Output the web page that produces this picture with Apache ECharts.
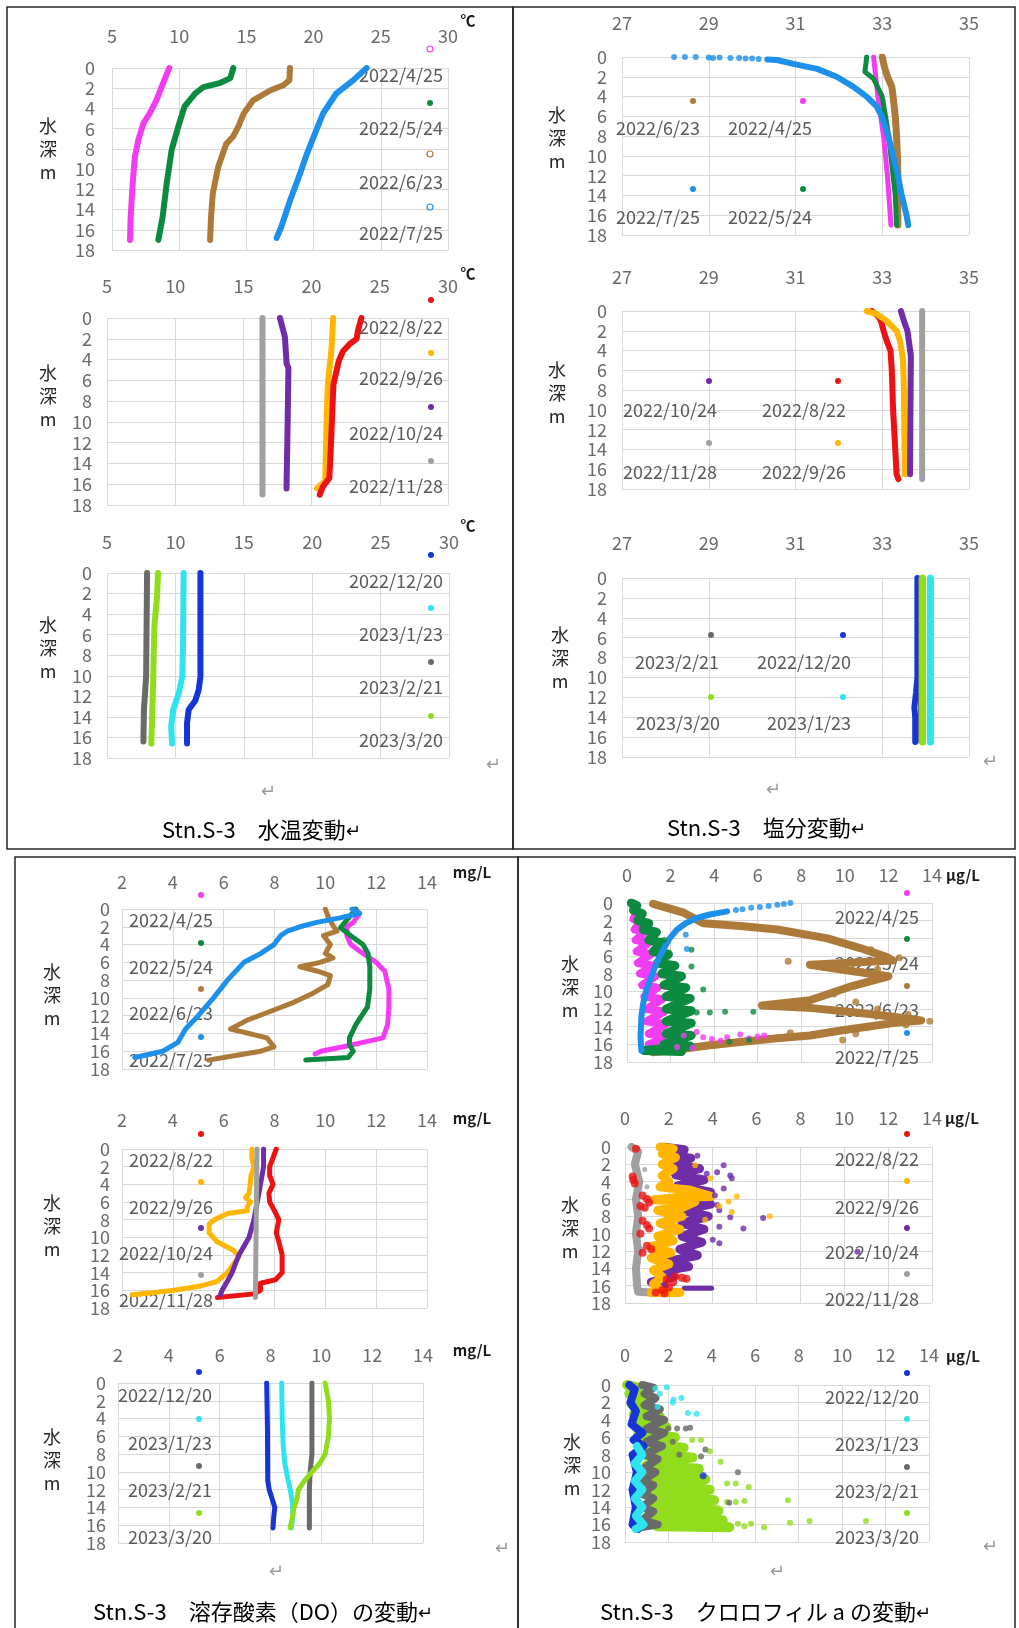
<!DOCTYPE html>
<html>
<head>
<meta charset="utf-8">
<script src="https://cdn.jsdelivr.net/npm/echarts@6/dist/echarts.min.js"></script>
<style>
html, body { margin: 0; padding: 0; background: #fff; overflow: hidden; }
#main { width: 1019px; height: 1628px; }
</style>
</head>
<body>
<div id="main"></div>
<script>
// survey dates, one row per sub chart
const row1 = ['2022/4/25', '2022/5/24', '2022/6/23', '2022/7/25']
const row2 = ['2022/8/22', '2022/9/26', '2022/10/24', '2022/11/28']
const row3 = ['2022/12/20', '2023/1/23', '2023/2/21', '2023/3/20']

const depthTicks = [0, 18, 2]
// depth labels split over two axes so the crowded labels never get dropped
const depthLabelsA = [0, 4, 8, 12, 16]
const depthLabelsB = [2, 6, 10, 14, 18]
const tempTicks = [5, 30, 5]
const salTicks = [27, 35, 2]
const doTicks = [2, 14, 2]
const chlTicks = [0, 14, 2]

// ---- water temperature [℃, depth m] ----
const temp0425 = [[9.26,0],[8.7,1.85],[8.3,3.2],[7.8,4.5],[7.33,5.5],[6.96,7.1],[6.7,8.8],[6.54,11.4],[6.39,14.7],[6.34,17]]
const temp0524 = [[14.03,0],[13.8,1],[13.0,1.5],[11.8,1.9],[11.2,2.5],[10.4,3.8],[9.93,5.8],[9.44,8.1],[9.07,11.4],[8.77,14.7],[8.45,17]]
const temp0623 = [[18.24,0],[18.2,1.2],[17.75,1.7],[16.8,2.2],[15.5,3.2],[14.8,4.5],[14.4,5.8],[14.0,6.8],[13.5,7.5],[12.9,9.8],[12.5,12.4],[12.37,14.7],[12.3,17]]
const temp0725 = [[23.95,0],[22.96,1.2],[21.7,2.5],[20.7,4.5],[20.1,6.5],[19.5,8.5],[19.0,10.4],[18.25,13.1],[17.6,15.7],[17.25,16.8]]
const temp0822 = [[23.65,0],[23.4,1.2],[23.3,2],[22.8,2.5],[22.3,3.2],[22.0,4.1],[21.6,6.4],[21.5,9.6],[21.4,12.8],[21.3,15.4],[20.8,16.3],[20.6,17]]
const temp0926 = [[21.58,0],[21.46,3],[21.2,6.2],[21.1,9.6],[21.05,12.8],[21.0,15.7],[20.4,16.4]]
const temp1024 = [[17.68,0],[18.04,1.8],[18.17,4.4],[18.3,4.8],[18.25,9.6],[18.16,16.4]]
const temp1128 = [[16.4,0],[16.4,17]]
const temp1220 = [[11.83,0],[11.83,6.9],[11.83,10.1],[11.7,11.4],[11.46,12.4],[10.97,13.3],[10.85,14.6],[10.85,16.6]]
const temp0123 = [[10.6,0],[10.56,6.9],[10.5,10.1],[10.25,11.7],[9.84,13.3],[9.69,14.9],[9.76,16.6]]
const temp0221 = [[7.93,0],[7.86,10.1],[7.7,13.3],[7.66,16.4]]
const temp0320 = [[8.73,0],[8.66,2.3],[8.46,5.2],[8.37,10.7],[8.24,16.6]]

// ---- salinity [psu, depth m] ----
const sal0425 = [[32.8,0],[32.9,4],[33.03,8],[33.12,12],[33.2,17]]
const sal0524 = [[32.64,0],[32.62,0.8],[32.6,1.5],[32.8,2.2],[33.0,4],[33.15,8],[33.25,12],[33.3,14],[33.32,16],[33.33,17]]
const sal0623 = [[33.0,0],[33.05,1],[33.12,2],[33.22,3],[33.25,4],[33.3,6],[33.33,8],[33.35,10],[33.36,12],[33.35,14],[33.36,16],[33.36,17]]
const sal0725 = [[30.35,0.25],[30.57,0.3],[30.95,0.7],[31.5,1.2],[31.95,2],[32.33,3],[32.64,4],[32.87,5],[32.99,6],[33.14,8],[33.25,10],[33.36,12],[33.45,14],[33.56,16],[33.6,17]]
const sal0725Top = [[28.2,0],[28.45,0],[28.7,0],[29.0,0.05],[29.1,0.1],[29.25,0.05],[29.5,0.1],[29.7,0.1],[29.85,0.15],[30.0,0.15],[30.15,0.2]]
const sal0822 = [[32.76,0],[32.9,0.5],[32.97,1],[33.03,2],[33.1,3],[33.19,4],[33.22,6],[33.25,10],[33.3,14],[33.33,16.5],[33.37,17]]
const sal0926 = [[32.64,0],[32.87,0.3],[33.1,1],[33.33,2],[33.41,3],[33.48,5],[33.5,8],[33.52,16.5]]
const sal1024 = [[33.43,0],[33.5,1],[33.58,2],[33.66,4.5],[33.65,10],[33.64,16.5]]
const sal1128 = [[33.92,0],[33.92,17]]
const sal1220 = [[33.81,0],[33.81,10],[33.78,11.5],[33.74,13],[33.76,14],[33.76,16.5]]
const sal0123 = [[34.11,0],[34.11,16.5]]
const sal0221 = [[33.86,0],[33.86,16.5]]
const sal0320 = [[33.93,0],[33.93,16.5]]

// ---- dissolved oxygen [mg/L, depth m] ----
const do0425 = [[11.15,0],[11.35,0.5],[11.1,1.5],[10.85,2],[10.85,3],[11.0,4],[11.48,5],[12.0,6],[12.34,7],[12.5,9],[12.5,11],[12.45,13],[12.27,14.5],[11.48,15],[10.7,15.5],[9.83,16],[9.6,16.3]]
const do0524 = [[11.2,0],[10.6,2.1],[11.0,3],[11.48,4],[11.68,5],[11.75,6.5],[11.75,9],[11.66,11],[11.2,13],[10.95,14.5],[10.95,15.3],[11.1,16],[10.9,16.7],[9.23,17]]
const do0623 = [[10.0,0],[10.13,1],[10.33,2],[10.46,2.5],[9.93,3],[10.2,4],[10.0,5],[10.3,5.5],[9.8,6],[9.0,6.5],[9.7,7],[10.2,7.5],[10.1,8.5],[9.5,9.5],[8.76,10.5],[7.85,11.5],[6.93,12.5],[6.27,13.5],[7.7,14.5],[7.98,15.5],[7.46,16],[6.4,16.5],[5.4,17]]
const do0725 = [[11.05,0],[11.35,0.5],[10.57,1],[9.66,1.5],[9.0,2],[8.5,2.5],[8.24,3],[7.98,4],[7.46,5],[6.8,6],[6.15,8],[5.6,10],[5.0,12],[4.5,13.5],[4.2,15],[3.6,16],[2.5,16.7]]
const do0822 = [[8.07,0],[7.94,1],[7.81,2],[7.81,3],[7.94,4],[7.78,5],[7.81,6],[8.0,7],[8.17,8],[8.07,9.5],[8.17,10.5],[8.3,12],[8.3,14],[8.04,14.8],[7.45,15.2],[7.45,16],[7.2,16.4],[5.75,16.8]]
const do0926 = [[7.11,0],[7.11,1],[7.19,2],[7.08,3],[7.04,4],[7.0,5],[6.86,5.5],[7.06,6],[6.93,6.5],[6.93,7],[6.15,7.3],[5.63,8],[5.43,8.5],[5.43,9.5],[5.74,10.5],[6.4,11.5],[6.6,12.2],[6.4,13],[6.14,14],[5.74,15],[5.1,15.5],[4.05,16],[3.1,16.3],[2.4,16.5]]
const do1024 = [[7.57,0],[7.57,2],[7.45,4],[7.32,6],[7.19,8],[7.0,10],[6.8,11],[6.6,12],[6.46,13],[6.33,14],[6.14,15],[5.94,16],[5.87,16.5]]
const do1128 = [[7.31,0],[7.28,8],[7.25,16.8]]
const do1220 = [[7.85,0],[7.88,5],[7.89,11],[7.95,12],[8.06,13],[8.17,14],[8.13,15],[8.1,16.3]]
const do0123 = [[8.44,0],[8.46,4],[8.5,7],[8.56,9],[8.63,10],[8.7,11],[8.78,12],[8.86,13.5],[8.88,15],[8.82,16.3]]
const do0221 = [[9.63,0],[9.63,8],[9.56,10],[9.53,12],[9.53,16.3]]
const do0320 = [[10.15,0],[10.28,2],[10.32,4],[10.28,6],[10.15,8],[9.95,9],[9.63,10],[9.33,11],[9.1,12],[9.04,13],[8.93,14],[8.87,15],[8.77,16.3]]

// ---- chlorophyll a [µg/L, depth m] (dense clouds traced as zigzags + loose points) ----
const chl0425 = [[0.3,0.5],[0.45,1],[0.3,1.8],[0.6,2.2],[0.35,3],[0.8,3.3],[0.4,4.2],[1.0,4.5],[0.45,5.5],[1.1,5.8],[0.5,6.8],[1.2,7.1],[0.6,8],[1.3,8.3],[0.7,9.3],[1.4,9.6],[0.8,10.6],[1.6,10.9],[0.9,12],[1.7,12.3],[0.9,13.4],[1.8,13.7],[1.0,14.8],[1.9,15.1],[1.0,16],[2.0,16.2],[0.9,16.7],[2.2,16.7]]
const chl0425Pts = [[3.2,14.6],[3.5,15.2],[3.9,15.4],[4.3,15.6],[4.6,15.2],[5.2,14.9],[5.6,15.3],[6.0,15.1],[6.3,15.0],[2.6,15.0],[2.3,16.3],[3.0,16.4]]
const chl0524 = [[0.2,0],[0.45,0.3],[0.3,0.8],[0.7,1.2],[0.5,2],[1.0,2.3],[0.75,3],[1.35,3.3],[1.0,4.2],[1.6,4.5],[1.2,5.5],[1.9,5.8],[1.4,6.8],[2.2,7.1],[1.6,8],[2.5,8.3],[1.7,9.3],[2.7,9.6],[1.8,10.6],[2.9,10.8],[1.8,12],[2.95,12.2],[1.8,13.4],[2.95,13.6],[1.8,14.8],[2.95,15],[1.7,16],[2.9,16.2],[0.8,16.7],[2.5,16.8]]
const chl0524Pts = [[1.7,4.2],[2.96,5.3],[2.96,7.2],[3.5,9.8],[3.8,12.4],[3.2,12.4],[4.5,12.3],[5.8,12.3],[4.7,15.7],[5.6,15.5]]
const chl0623 = [[1.2,0.1],[2.6,1.1],[3.5,2.3],[5.2,2.6],[6.9,3.0],[9.2,4.0],[10.7,5.1],[11.9,6.1],[12.2,6.5],[10,6.8],[8.4,7.0],[10,7.6],[12,8.3],[10.2,9.5],[8.4,11],[6.2,11.6],[8.5,11.9],[10.5,12.4],[12.3,12.9],[13.5,13.3],[12.2,13.6],[9.9,14.4],[8.4,15],[6.9,15.3],[5.3,15.7],[3.8,16.1],[2.3,16.6],[1.2,16.9]]
const chl0623Pts = [[11.2,5.3],[12.5,6.2],[11.5,7.5],[11.2,8.8],[9.5,10.3],[10.5,11.2],[11.5,12],[12.8,13.8],[11,14.1],[9.9,15.5],[10.5,14.8],[7.5,14.7],[13.9,13.4],[12.9,12.6],[7.4,6.6],[9.0,7.3],[11.0,9.0]]
const chl0725 = [[4.6,0.95],[3.8,1.3],[3.2,1.7],[2.7,2.3],[2.3,3],[1.96,4],[1.66,5.3],[1.35,6.8],[1.12,8.3],[0.89,9.8],[0.74,11.4],[0.66,12.9],[0.62,15.2],[0.66,16.7]]
const chl0725Pts = [[7.5,0],[7.2,0.1],[6.9,0.2],[6.5,0.35],[6.1,0.45],[5.7,0.55],[5.3,0.7],[5.0,0.8],[2.7,3.6],[2.75,5.2]]
const chl0822Pts = [[0.5,0.2],[0.35,3.4],[0.38,3.8],[0.45,4.2],[0.8,5.6],[1.0,6.0],[1.1,6.4],[0.7,6.8],[0.9,7.0],[0.8,8.5],[1.0,9.0],[1.1,9.4],[0.7,10.0],[1.0,11.4],[1.2,11.8],[0.8,12.2],[1.9,15.3],[2.3,14.9],[2.6,15.1],[2.2,15.6],[2.0,16.2],[1.7,16.5],[2.8,15.2],[1.4,16.8],[1.8,16.9]]
const chl0926 = [[1.6,0],[2.2,0.2],[1.7,0.8],[2.3,1.2],[1.7,2],[2.2,2.5],[1.7,3.3],[2.0,4],[1.6,4.6],[3.0,5.0],[3.9,5.7],[2.5,5.8],[1.3,6.1],[3.2,6.3],[2.6,7.0],[1.5,7.3],[2.6,8.0],[1.6,8.8],[2.5,9.5],[1.5,10.3],[2.2,10.8],[1.2,11.5],[2.1,12.2],[1.2,12.8],[2.0,13.5],[1.3,14.2],[1.7,15.0],[1.3,15.8],[1.6,16.5],[1.2,16.8],[2.5,16.8]]
const chl0926Pts = [[4.72,6.3],[5.1,5.7],[6.6,8.0],[4.87,7.5],[3.66,8.4],[3.9,3.6],[3.2,2.1],[4.3,6.8]]
const chl1024 = [[1.7,0],[2.7,0.3],[1.9,0.9],[3.0,1.3],[2.2,2],[3.4,2.5],[2.3,3.2],[3.6,3.8],[2.4,4.5],[3.9,5.2],[2.6,5.9],[3.9,6.6],[2.6,7.3],[3.8,8],[2.6,8.8],[3.6,9.5],[2.6,10.3],[3.5,11],[2.5,11.8],[3.3,12.5],[2.0,13.2],[2.9,13.8],[1.5,14.4],[2.2,15],[1.2,15.6],[1.8,16]]
const chl1024Bottom = [[2.7,16.3],[3.95,16.3]]
const chl1024Pts = [[4.2,2.9],[4.5,2.1],[4.8,3.3],[4.87,3.6],[3.73,3.1],[4.5,4.8],[4.2,6.7],[4.3,7.3],[4.8,8.1],[5.4,9.4],[6.3,8.2],[4.3,9.2],[4.3,11.1],[4.0,10.7],[10.6,12.1],[3.3,1.0],[4.1,5.6]]
const chl1128 = [[0.3,0],[0.6,0.5],[0.45,2],[0.65,4],[0.5,6],[0.6,8],[0.5,10],[0.6,12],[0.5,14],[0.55,16],[0.6,16.7],[1.2,16.8]]
const chl1128Pts = [[0.9,2.6],[1.0,4.6],[0.8,11.8]]
const chl1220 = [[0.2,0],[0.45,0.5],[0.25,2],[0.5,3],[0.3,4.5],[0.8,5.5],[0.4,6.3],[0.85,7],[0.35,8],[0.55,10],[0.35,12],[0.5,14],[0.35,16],[0.6,16.5]]
const chl1220Pts = [[3.6,10.4]]
const chl0123 = [[0.55,7],[0.8,8],[0.45,9],[0.8,10],[0.45,11],[0.8,12],[0.45,13],[0.8,14],[0.5,15],[0.85,16],[0.5,16.5]]
const chl0123Pts = [[1.92,0.27],[1.4,0.4],[2.23,1.7],[2.6,1.5],[2.2,2.0],[2.9,3.2],[3.3,3.3],[1.6,1.0],[1.5,2.5]]
const chl0221 = [[0.8,0],[1.3,0.3],[0.9,1],[1.4,1.5],[0.9,2.3],[1.6,2.8],[1.0,3.6],[1.8,4.0],[1.0,5],[1.8,5.5],[1.0,6.5],[1.7,7],[0.9,8],[1.5,8.5],[0.9,9.5],[1.4,10],[0.8,11],[1.3,11.5],[0.8,12.5],[1.3,13],[0.8,14],[1.3,14.5],[0.8,15.5],[1.5,16],[0.7,16.3]]
const chl0221Pts = [[2.0,5.0],[2.4,5.0],[2.8,5.0],[3.0,4.9],[3.7,7.4],[3.5,8.2],[5.2,10.0],[4.8,13.5],[2.2,6.5],[2.5,8.0]]
const chl0320 = [[0.1,0],[0.6,0.3],[0.2,1],[0.9,1.4],[0.3,2.2],[1.2,2.6],[0.4,3.4],[1.6,3.6],[0.5,4.6],[1.9,4.8],[0.6,5.7],[2.3,6.0],[0.8,6.8],[2.7,7.2],[0.9,8],[3.1,8.3],[1.0,9.2],[3.4,9.6],[1.1,10.4],[3.7,10.8],[1.2,11.6],[3.9,12],[1.3,12.8],[4.1,13.2],[1.4,14],[4.3,14.4],[1.4,15.2],[4.5,15.5],[1.5,16.2],[4.8,16.3]]
const chl0320Pts = [[5.2,15.9],[5.8,15.9],[6.4,16.3],[5.5,16.2],[7.6,15.8],[8.5,15.6],[11.1,15.6],[7.5,13.2],[5.7,11.7],[5.1,11.3],[4.7,11.3],[3.5,6.3],[3.1,6.3],[5.5,13.3],[5.1,13.4],[4.7,13.4],[4.4,8.8],[3.9,7.6]]

const COL = {
  '2022/4/25': '#f23cf2', '2022/5/24': '#0b8a40', '2022/6/23': '#ad7a3a', '2022/7/25': '#1c90ea',
  '2022/8/22': '#ee1111', '2022/9/26': '#ffb600', '2022/10/24': '#6f2da8', '2022/11/28': '#a0a0a0',
  '2022/12/20': '#1535d6', '2023/1/23': '#2fe3f0', '2023/2/21': '#6a6a6a', '2023/3/20': '#92dc1e'
}

const FONT = '"Noto Sans CJK JP", "Noto Sans", sans-serif'
const TICK_C = '#6a6a6a'
const GRID_C = '#d9d9d9'

function L(data, date, w) { return { kind: 'line', data, date, w } }
function P(data, date, s) { return { kind: 'dot', data, date, s } }

// legend: [date, markerX, markerY, textX, textY]
function leg(dates, mx, mys, tx, tys, align, hollow) {
  return dates.map((d, k) => [d, mx, mys[k], tx, tys[k], align, hollow ? hollow[k] : false])
}

const charts = [
  { g: [112, 68, 336, 182], x: tempTicks, xm: 23, ym: 17,
    layers: [L(temp0425, row1[0], 6), L(temp0524, row1[1], 6), L(temp0623, row1[2], 6), L(temp0725, row1[3], 6)],
    legend: leg(row1, 430, [49, 103, 154, 207], 443, [75, 128, 182, 233], 'right', [true, false, true, true]) },
  { g: [107, 318, 341, 187], x: tempTicks, xm: 23, ym: 15,
    layers: [L(temp1128, row2[3], 6), L(temp1024, row2[2], 6), L(temp0926, row2[1], 6), L(temp0822, row2[0], 6)],
    legend: leg(row2, 431, [300, 353, 407, 461], 443, [327, 378, 433, 486], 'right') },
  { g: [107, 573, 342, 185], x: tempTicks, xm: 22, ym: 15,
    layers: [L(temp0221, row3[2], 6), L(temp0320, row3[3], 6), L(temp0123, row3[1], 6), L(temp1220, row3[0], 6)],
    legend: leg(row3, 431, [555, 608, 662, 716], 443, [581, 634, 687, 740], 'right') },
  { g: [622, 57, 347, 178], x: salTicks, xm: 25, ym: 15,
    layers: [L(sal0425, row1[0], 5), L(sal0623, row1[2], 7), L(sal0524, row1[1], 5), L(sal0725, row1[3], 6), P(sal0725Top, row1[3], 6)],
    legend: [['2022/6/23', 693, 101, 658, 128, 'center'], ['2022/4/25', 803, 101, 770, 128, 'center'],
             ['2022/7/25', 693, 189, 658, 217, 'center'], ['2022/5/24', 803, 189, 770, 217, 'center']] },
  { g: [622, 311, 347, 178], x: salTicks, xm: 25, ym: 15,
    layers: [L(sal0822, row2[0], 6), L(sal0926, row2[1], 6), L(sal1024, row2[2], 6), L(sal1128, row2[3], 6)],
    legend: [['2022/10/24', 709, 381, 670, 410, 'center'], ['2022/8/22', 838, 381, 804, 410, 'center'],
             ['2022/11/28', 709, 443, 670, 472, 'center'], ['2022/9/26', 838, 443, 804, 472, 'center']] },
  { g: [622, 578, 347, 179], x: salTicks, xm: 26, ym: 15,
    layers: [L(sal1220, row3[0], 6), L(sal0123, row3[1], 7), L(sal0221, row3[2], 3), L(sal0320, row3[3], 7)],
    legend: [['2023/2/21', 711, 635, 677, 662, 'center'], ['2022/12/20', 843, 635, 804, 662, 'center'],
             ['2023/3/20', 711, 697, 678, 723, 'center'], ['2023/1/23', 843, 697, 809, 723, 'center']] },
  { g: [122, 909, 305, 160], x: doTicks, xm: 18, ym: 12,
    layers: [L(do0623, row1[2], 5), L(do0425, row1[0], 5), L(do0524, row1[1], 5), L(do0725, row1[3], 5)],
    legend: leg(row1, 201, [895, 943, 989, 1037], 213, [920, 967, 1013, 1060], 'right') },
  { g: [122, 1149, 305, 159], x: doTicks, xm: 20, ym: 12,
    layers: [L(do0822, row2[0], 5), L(do0926, row2[1], 5), L(do1024, row2[2], 5), L(do1128, row2[3], 5)],
    legend: leg(row2, 201, [1134, 1182, 1228, 1275], 213, [1160, 1207, 1253, 1300], 'right') },
  { g: [118, 1383, 305, 160], x: doTicks, xm: 19, ym: 12,
    layers: [L(do1220, row3[0], 5), L(do0123, row3[1], 5), L(do0221, row3[2], 5), L(do0320, row3[3], 5)],
    legend: leg(row3, 199, [1372, 1419, 1466, 1513], 212, [1395, 1443, 1490, 1537], 'right') },
  { g: [627, 903, 305, 159], x: chlTicks, xm: 19, ym: 14,
    layers: [L(chl0623, row1[2], 8), P(chl0623Pts, row1[2], 7), L(chl0425, row1[0], 8), P(chl0425Pts, row1[0], 6),
             L(chl0524, row1[1], 9), P(chl0524Pts, row1[1], 6), L(chl0725, row1[3], 6), P(chl0725Pts, row1[3], 6)],
    legend: leg(row1, 907, [893, 939, 986, 1033], 919, [917, 963, 1010, 1057], 'right') },
  { g: [625, 1147, 307, 156], x: chlTicks, xm: 20, ym: 14,
    layers: [L(chl1128, row2[3], 8), P(chl1128Pts, row2[3], 5), L(chl1024, row2[2], 9), L(chl1024Bottom, row2[2], 5), P(chl1024Pts, row2[2], 6),
             L(chl0926, row2[1], 9), P(chl0926Pts, row2[1], 6), P(chl0822Pts, row2[0], 8)],
    legend: leg(row2, 907, [1134, 1181, 1228, 1274], 919, [1159, 1207, 1252, 1299], 'right') },
  { g: [625, 1385, 304, 157], x: chlTicks, xm: 21, ym: 14,
    layers: [L(chl0320, row3[3], 10), P(chl0320Pts, row3[3], 6), L(chl0221, row3[2], 8), P(chl0221Pts, row3[2], 6),
             L(chl1220, row3[0], 8), P(chl1220Pts, row3[0], 7), L(chl0123, row3[1], 8), P(chl0123Pts, row3[1], 6)],
    legend: leg(row3, 907, [1373, 1419, 1467, 1513], 919, [1397, 1444, 1491, 1537], 'right') }
]

// y axis titles, unit labels
const yTitles = [[48, 149], [48, 396], [48, 648], [557, 138], [557, 393], [560, 658],
                 [52, 995], [52, 1226], [52, 1460], [570, 987], [570, 1228], [572, 1465]]
const units = [['℃', 468, 20], ['℃', 468, 273], ['℃', 468, 525],
               ['mg/L', 472, 872], ['mg/L', 472, 1118], ['mg/L', 472, 1350],
               ['µg/L', 963, 875], ['µg/L', 962, 1118], ['µg/L', 963, 1356]]
const captions = [['Stn.S-3　水温変動', 162, 830], ['Stn.S-3　塩分変動', 667, 828],
                  ['Stn.S-3　溶存酸素（DO）の変動', 93, 1612], ['Stn.S-3　クロロフィル a の変動', 600, 1612]]
const returns = [[493, 763], [268, 790], [990, 760], [773, 788], [502, 1547], [276, 1570], [990, 1545], [777, 1570]]

const grids = [], xAxes = [], yAxes = [], series = [], graphics = []

function depthAxis(i, margin, labels, withGrid) {
  return {
    gridIndex: i, type: 'value', inverse: true, position: 'left', offset: 0,
    min: depthTicks[0], max: depthTicks[1], interval: depthTicks[2],
    axisLine: { show: false }, axisTick: { show: false },
    splitLine: { show: withGrid, lineStyle: { color: GRID_C, width: 1 } },
    axisLabel: { color: TICK_C, fontSize: 18, fontFamily: FONT, margin: margin,
                 customValues: labels, showMinLabel: true, showMaxLabel: true }
  }
}

charts.forEach((c, i) => {
  grids.push({ left: c.g[0], top: c.g[1], width: c.g[2], height: c.g[3] })
  xAxes.push({
    gridIndex: i, type: 'value', position: 'top',
    min: c.x[0], max: c.x[1], interval: c.x[2],
    axisLine: { show: false }, axisTick: { show: false },
    splitLine: { show: true, lineStyle: { color: GRID_C, width: 1 } },
    axisLabel: { color: TICK_C, fontSize: 18, fontFamily: FONT, margin: c.xm, showMinLabel: true, showMaxLabel: true }
  })
  const yIdx = yAxes.length
  yAxes.push(depthAxis(i, c.ym, depthLabelsA, true))
  yAxes.push(depthAxis(i, c.ym, depthLabelsB, false))
  c.layers.forEach(l => {
    const color = COL[l.date]
    if (l.kind === 'line') {
      series.push({
        type: 'line', xAxisIndex: i, yAxisIndex: yIdx, data: l.data,
        symbol: 'none', showSymbol: false, silent: true, z: 3,
        lineStyle: { color, width: l.w, cap: 'round', join: 'round' }, itemStyle: { color }
      })
    } else {
      series.push({
        type: 'scatter', xAxisIndex: i, yAxisIndex: yIdx, data: l.data,
        symbolSize: l.s, silent: true, z: 3, itemStyle: { color }
      })
    }
  })
  c.legend.forEach(([d, mx, my, tx, ty, align, hollow]) => {
    graphics.push({
      type: 'circle', z: 1, shape: { cx: mx, cy: my, r: 3 },
      style: hollow ? { fill: '#fff', stroke: COL[d], lineWidth: 1.2 } : { fill: COL[d] }
    })
    graphics.push({
      type: 'text', z: 1,
      style: { text: d, x: tx, y: ty, textAlign: align, align: align, textVerticalAlign: 'middle', verticalAlign: 'middle',
               font: '18px ' + FONT, fill: '#5a5a5a' }
    })
  })
})

yTitles.forEach(([x, y]) => {
  graphics.push({
    type: 'text', z: 5,
    style: { text: '水\n深\nm', x, y, textAlign: 'center', align: 'center', textVerticalAlign: 'middle', verticalAlign: 'middle',
             font: '18px ' + FONT, lineHeight: 23, fill: '#262626' }
  })
})
units.forEach(([t, x, y]) => {
  graphics.push({
    type: 'text', z: 5,
    style: { text: t, x, y, textAlign: 'center', align: 'center', textVerticalAlign: 'middle', verticalAlign: 'middle',
             font: 'bold 15px ' + FONT, fill: '#1a1a1a' }
  })
})
captions.forEach(([t, x, y]) => {
  graphics.push({
    type: 'text', z: 5,
    style: { text: '{a|' + t + '}{b|↵}', x, y, textAlign: 'left', align: 'left', textVerticalAlign: 'middle', verticalAlign: 'middle',
             rich: { a: { fontSize: 22, fontFamily: FONT, color: '#262626' }, b: { fontSize: 18, fontFamily: FONT, color: '#9a9a9a' } } }
  })
})
returns.forEach(([x, y]) => {
  graphics.push({
    type: 'text', z: 5,
    style: { text: '↵', x, y, textAlign: 'center', align: 'center', textVerticalAlign: 'middle', verticalAlign: 'middle',
             font: '18px ' + FONT, fill: '#9a9a9a' }
  })
})

// panel frames
const frames = [[7, 7, 506, 842], [513, 7, 502, 842], [15, 857, 503, 780], [518, 857, 497, 780]]
frames.forEach(([x, y, w, h]) => {
  graphics.push({ type: 'rect', z: 10, shape: { x, y, width: w, height: h },
                  style: { fill: 'none', stroke: '#262626', lineWidth: 1.5 } })
})

const myChart = echarts.init(document.getElementById('main'))
myChart.setOption({
  animation: false,
  backgroundColor: '#fff',
  grid: grids,
  xAxis: xAxes,
  yAxis: yAxes,
  series: series,
  graphic: { elements: graphics }
})
</script>
</body>
</html>
